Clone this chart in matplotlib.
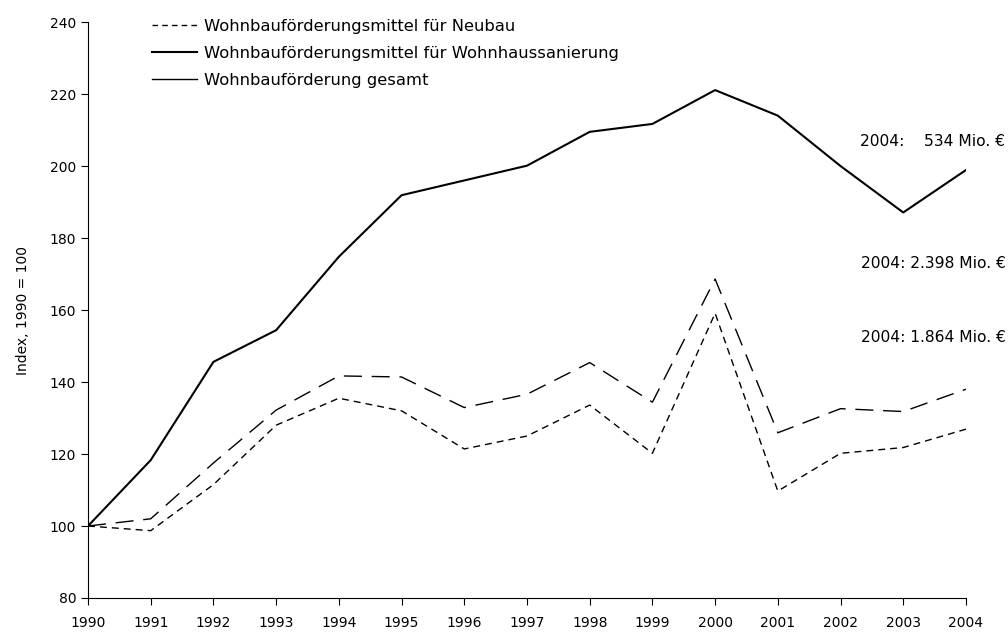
import matplotlib
matplotlib.use('Agg')
import matplotlib.pyplot as plt
from matplotlib.lines import Line2D

# Data (Index, 1990 = 100)
years = list(range(1990, 2005))
neubau = [100, 98.7, 111.5, 128, 135.5, 132, 121.4, 125, 133.6, 120.2, 159.1, 109.7, 120.2, 121.8, 126.9]
sanierung = [100, 118.3, 145.6, 154.4, 174.8, 191.9, 196, 200.1, 209.5, 211.7, 221.1, 214, 200, 187.1, 198.9]
gesamt = [100, 102, 117.5, 132.2, 141.7, 141.4, 132.9, 136.6, 145.4, 134.4, 168.6, 125.9, 132.6, 131.8, 138]

labels = ['Wohnbauförderungsmittel für Neubau',
          'Wohnbauförderungsmittel für Wohnhaussanierung',
          'Wohnbauförderung gesamt']
notes = ['2004:    534 Mio. €', '2004: 2.398 Mio. €', '2004: 1.864 Mio. €']
note_y = [206.8, 172.8, 152.3]

plt.rcParams['font.family'] = ['DejaVu Sans']
fig = plt.figure(figsize=(10.08, 6.32), dpi=100)
ax = fig.add_axes([0.0873, 0.0538, 0.8710, 0.9113])

ax.plot(years, neubau, color='black', lw=1.0, dashes=(5, 3.6))
ax.plot(years, sanierung, color='black', lw=1.5)
ax.plot(years, gesamt, color='black', lw=1.0, dashes=(13, 7))

ax.set_xlim(1990, 2004)
ax.set_ylim(80, 240)
ax.set_xticks(years)
ax.set_yticks(range(80, 241, 20))
ax.tick_params(labelsize=10, length=5, color='black')
ax.tick_params(axis='x', pad=8)
ax.spines['top'].set_visible(False)
ax.spines['right'].set_visible(False)
ax.set_ylabel('Index, 1990 = 100', fontsize=10, labelpad=14)

handles = [Line2D([], [], color='black', lw=1.0, dashes=(4, 3)),
           Line2D([], [], color='black', lw=1.5),
           Line2D([], [], color='black', lw=1.0)]
ax.legend(handles, labels, loc='upper left', bbox_to_anchor=(0.073, 1.005),
          frameon=False, fontsize=11.8, handlelength=2.75, handletextpad=0.4,
          labelspacing=0.72, borderaxespad=0, borderpad=0)

for txt, y in zip(notes, note_y):
    ax.text(2004 + 0.63, y, txt, ha='right', va='center', fontsize=11.2, clip_on=False)

plt.savefig('out.png', dpi=100)
